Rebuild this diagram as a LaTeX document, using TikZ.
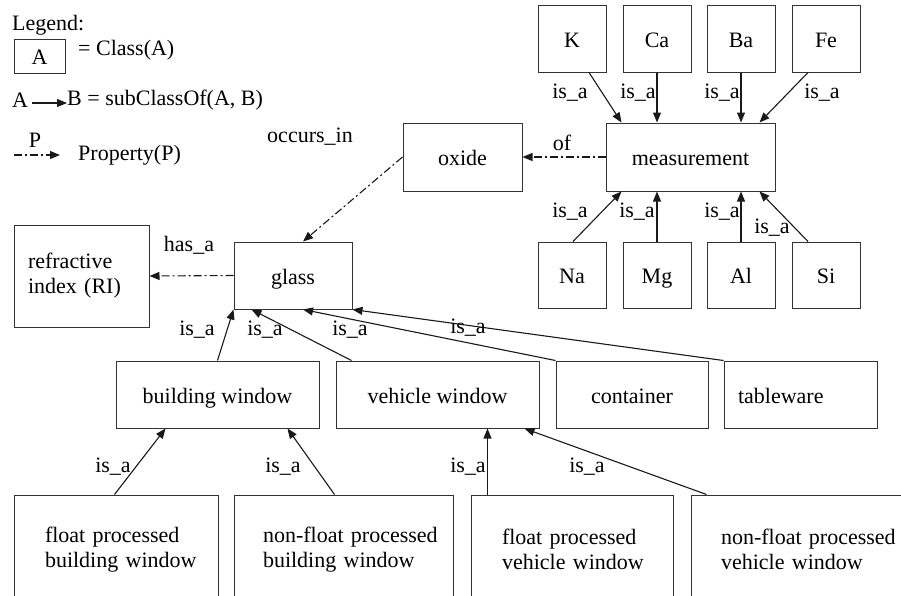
\documentclass[tikz,border=0pt]{standalone}
\usepackage{fontspec}
\setmainfont{Liberation Serif}
\usetikzlibrary{arrows.meta}
\begin{document}
\begin{tikzpicture}[x=1pt,y=-1pt,
  font=\fontsize{22}{25}\selectfont,
  cls/.style={draw=black!80, line width=1pt, inner sep=0pt, minimum height=67pt,
    text height=17pt, text depth=0pt},
  lbox/.style={cls, align=left, inner ysep=0pt,
    execute at begin node={\hyphenpenalty=10000\exhyphenpenalty=10000\relax}},
  mbox/.style={lbox, text height=, text depth=},
  isa/.style={draw=black!90, line width=1.1pt, -{Triangle[length=10pt,width=8pt]}},
  prop/.style={draw=black!90, line width=1.1pt, dash pattern=on 8pt off 3pt on 2pt off 3pt,
    -{Triangle[length=10pt,width=8pt]}},
  lbl/.style={inner sep=0pt}]
\useasboundingbox (0,0) rectangle (901,595);
\clip (0,0) rectangle (901,595);

% legend
\node[lbl, anchor=west] (legend) at (12,25) {Legend:};
\node[cls, minimum width=51pt, minimum height=34pt] (legbox) at (39.5,56) {A};
\node[lbl, anchor=west] (legclass) at (78,50) {= Class(A)};
\node[lbl, anchor=west] (legA) at (12,100) {A};
\node[lbl, anchor=west] (legB) at (67,100) {B = subClassOf(A, B)};
\draw[isa] ([shift={(4,3)}]legA.east) -- ([shift={(0,3)}]legB.west);
\coordinate (pstart) at (14,155);
\node[lbl, anchor=west] (legprop) at (78,155) {Property(P)};
\draw[prop] (pstart) -- ([xshift=-18pt]legprop.west) node[lbl] at (35,140) {P};

% measured elements
\node[cls, minimum width=68pt] (K)  at (572,38.5) {K};
\node[cls, minimum width=68pt] (Ca) at (657,38.5) {Ca};
\node[cls, minimum width=68pt] (Ba) at (741,38.5) {Ba};
\node[cls, minimum width=68pt] (Fe) at (826,38.5) {Fe};
\node[cls, minimum width=169pt, minimum height=68pt] (meas) at (690.5,157) {measurement};
\node[cls, minimum width=119pt, minimum height=68pt] (oxide) at (462.5,157) {oxide};
\node[cls, minimum width=68pt, minimum height=66pt] (Na) at (572,275) {Na};
\node[cls, minimum width=68pt, minimum height=66pt] (Mg) at (657,275) {Mg};
\node[cls, minimum width=68pt, minimum height=66pt] (Al) at (741,275) {Al};
\node[cls, minimum width=68pt, minimum height=66pt] (Si) at (826,275) {Si};

% glass and its kinds
\node[cls, minimum width=118pt] (glass) at (293,275.5) {glass};
\node[mbox, text width=107pt, inner xsep=14pt, minimum height=102pt] (ri) at (81.5,276)
  {refractive\\index~(RI)};
\node[cls, minimum width=203pt] (bw) at (217.5,394.5) {building window};
\node[cls, minimum width=203pt] (vw) at (437.5,394.5) {vehicle window};
\node[cls, minimum width=152pt] (cont) at (632,394.5) {container};
\node[lbox, text width=125pt, inner xsep=14pt] (tw) at (800.5,394.5) {tableware};
\node[mbox, text width=142pt, inner xsep=31pt, minimum height=109pt] (fpbw) at (116,549.5)
  {float~processed\\building~window};
\node[mbox, text width=161pt, inner xsep=29pt, minimum height=109pt] (nfpbw) at (343.5,549.5)
  {non-float~processed\\building~window};
\node[mbox, text width=140pt, inner xsep=31pt, minimum height=109pt] (fpvw) at (572,549.5)
  {float~processed\\vehicle~window};
\node[mbox, text width=180pt, inner xsep=30pt, minimum height=109pt] (nfpvw) at (811,549.5)
  {non-float~processed\\vehicle~window};

% elements are measurements
\draw[isa] ([xshift=17pt]K.south) -- ([xshift=16pt]meas.north west) node[lbl] at (570,93) {is\_a};
\draw[isa] (Ca.south) -- (Ca.south |- meas.north) node[lbl] at (638,93) {is\_a};
\draw[isa] (Ba.south) -- (Ba.south |- meas.north) node[lbl] at (722,93) {is\_a};
\draw[isa] ([xshift=-18pt]Fe.south) -- ([xshift=-16pt]meas.north east) node[lbl] at (822,93) {is\_a};
\draw[isa] ([xshift=1pt]Na.north) -- ([xshift=16pt]meas.south west) node[lbl] at (570,212) {is\_a};
\draw[isa] (Mg.north) -- (Mg.north |- meas.south) node[lbl] at (637,212) {is\_a};
\draw[isa] (Al.north) -- (Al.north |- meas.south) node[lbl] at (722,212) {is\_a};
\draw[isa] ([xshift=-18pt]Si.north) -- ([xshift=-16pt]meas.south east) node[lbl] at (772,228) {is\_a};

% properties
\draw[prop] (meas.west) -- (oxide.east) node[lbl] at (562,143) {of};
\draw[prop] (oxide.west) -- ([xshift=10pt]glass.north) node[lbl] at (310,137) {occurs\_in};
\draw[prop] (glass.west) -- (ri.east) node[lbl] at (189,245) {has\_a};

% kinds of glass
\draw[isa] (bw.north) -- (glass.south west) node[lbl] at (197,330) {is\_a};
\draw[isa] ([xshift=16pt]vw.north west) -- ([xshift=18pt]glass.south west) node[lbl] at (265,330) {is\_a};
\draw[isa] (cont.north west) -- ([xshift=10pt]glass.south) node[lbl] at (350,330) {is\_a};
\draw[isa] (tw.north west) -- (glass.south east) node[lbl] at (468,328) {is\_a};

% kinds of window
\draw[isa] ([xshift=101pt]fpbw.north west) -- ([xshift=50pt]bw.south west) node[lbl] at (113,467) {is\_a};
\draw[isa] ([xshift=101pt]nfpbw.north west) -- ([xshift=-32pt]bw.south east) node[lbl] at (283,467) {is\_a};
\draw[isa] ([xshift=17pt]fpvw.north west) -- ([xshift=17pt]fpvw.north west |- vw.south) node[lbl] at (468,467) {is\_a};
\draw[isa] ([xshift=16pt]nfpvw.north west) -- ([xshift=-15pt]vw.south east) node[lbl] at (587,467) {is\_a};
\end{tikzpicture}
\end{document}
